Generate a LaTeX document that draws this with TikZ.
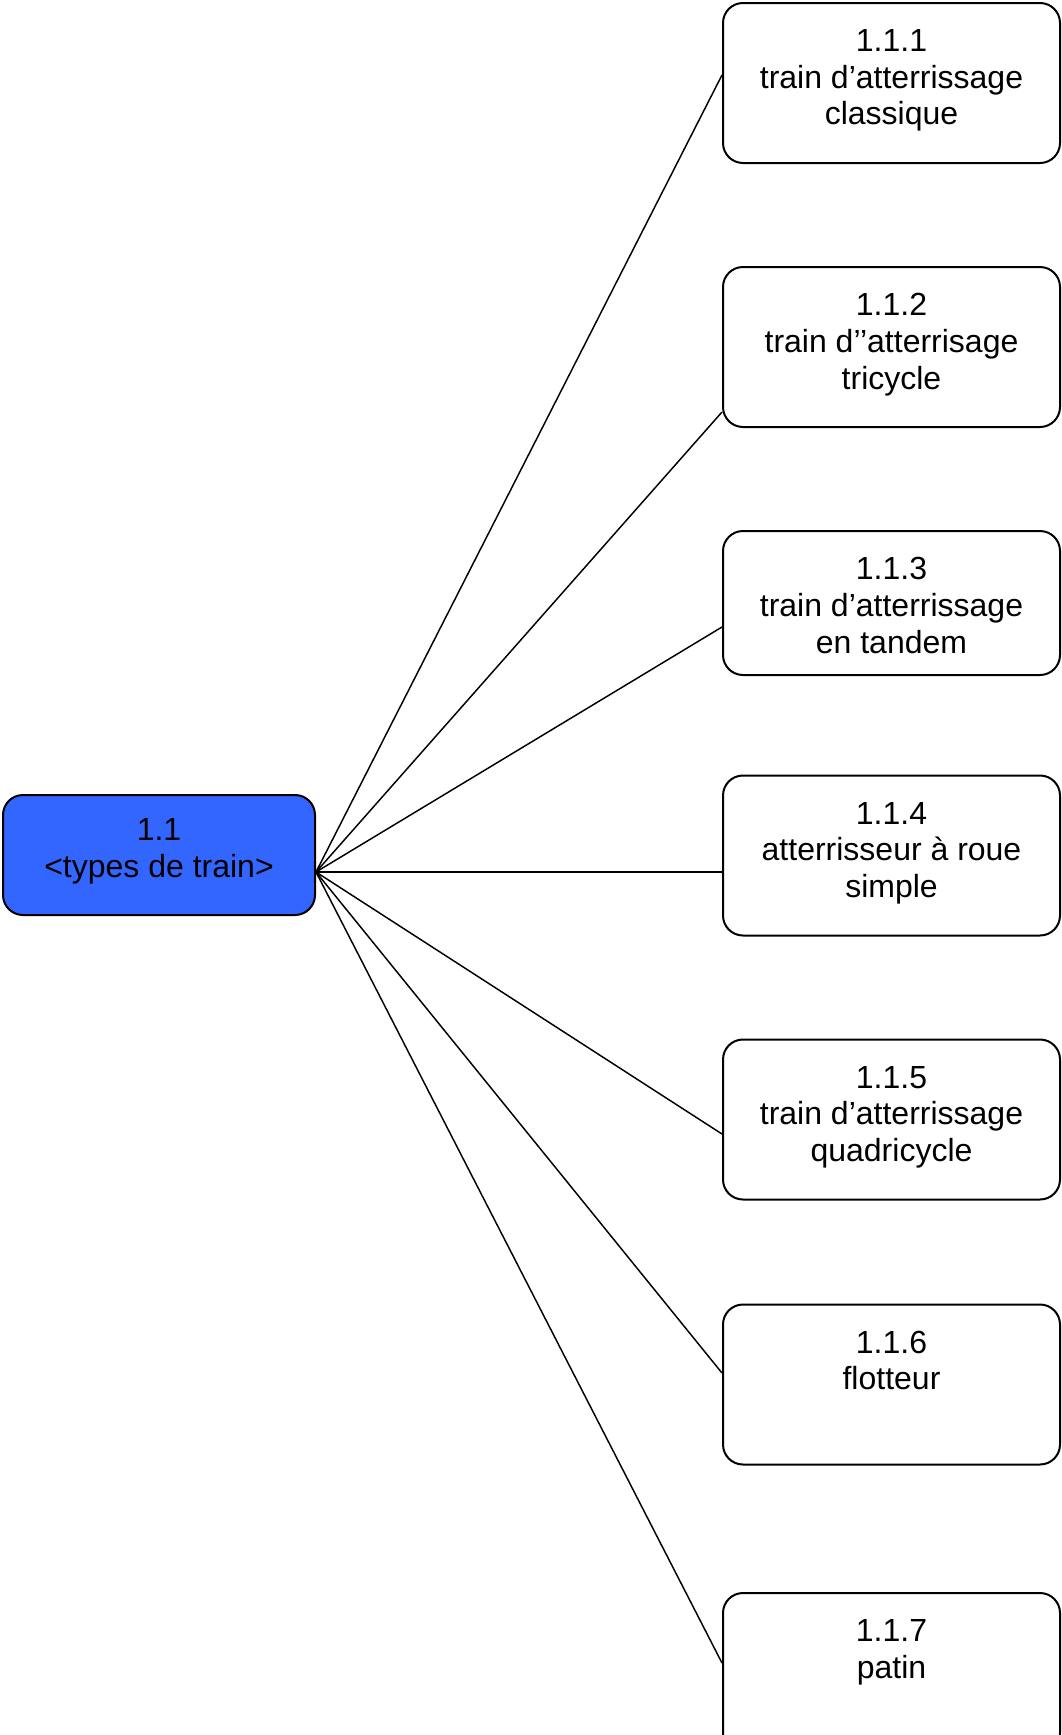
\documentclass[tikz,border=0pt]{standalone}
\usepackage{fontspec}
\setmainfont{Liberation Sans}
\definecolor{rootblue}{HTML}{3366FF}
\begin{document}
\begin{tikzpicture}[x=0.75pt,y=-0.75pt,
  box/.style={draw=black,line width=1.5pt,rounded corners=15pt,fill=white,
    minimum width=252.75pt,minimum height=120pt,inner sep=0pt},
  rootbox/.style={box,fill=rootblue,minimum width=234pt,minimum height=90pt},
  label/.style={anchor=north,inner sep=0pt,align=center,
    font=\fontsize{24}{27.4}\selectfont},
  link/.style={draw=black,line width=1.1pt}]
\useasboundingbox (0,0) rectangle (1061,1735);
\clip (0,0) rectangle (1061,1735);

% root node
\node[rootbox] (root) at (159,855) {};
\node[label] (troot) at ([yshift=-18.5pt]root.north) {1.1\\<types de train>};

% child nodes
\node[box] (b1) at (891.5,83) {};
\node[box] (b2) at (891.5,347) {};
\node[box,minimum height=108pt] (b3) at (891.5,603) {};
\node[box] (b4) at (891.5,855.5) {};
\node[box] (b5) at (891.5,1119.5) {};
\node[box] (b6) at (891.5,1384.5) {};
\node[box] (b7) at (891.5,1673) {};

\node[label] (t1) at ([yshift=-20.5pt]b1.north) {1.1.1\\train d’atterrissage\\classique};
\node[label] (t2) at ([yshift=-20.5pt]b2.north) {1.1.2\\train d’{}’atterrisage\\tricycle};
\node[label] (t3) at ([yshift=-20.5pt]b3.north) {1.1.3\\train d’atterrissage\\en tandem};
\node[label] (t4) at ([yshift=-20.5pt]b4.north) {1.1.4\\atterrisseur à roue\\simple};
\node[label] (t5) at ([yshift=-20.5pt]b5.north) {1.1.5\\train d’atterrissage\\quadricycle};
\node[label] (t6) at ([yshift=-20.5pt]b6.north) {1.1.6\\flotteur};
\node[label] (t7) at ([yshift=-20.5pt]b7.north) {1.1.7\\patin};

% connectors fan out from one point on the root's right side
\coordinate (hub) at (root.east |- 0,872);
\draw[link] (hub) -- (b1.west |- 0,75);
\draw[link] (hub) -- (b2.west |- 0,412);
\draw[link] (hub) -- (b3.west |- 0,627);
\draw[link] (hub) -- (b4.west |- 0,872);
\draw[link] (hub) -- (b5.west |- 0,1134);
\draw[link] (hub) -- (b6.west |- 0,1373);
\draw[link] (hub) -- (b7.west |- 0,1663);
\end{tikzpicture}
\end{document}
